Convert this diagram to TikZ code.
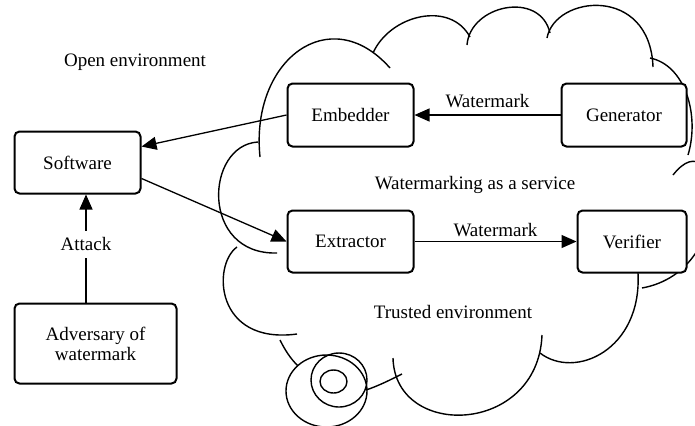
\documentclass[tikz,border=0pt]{standalone}
\usepackage{fontspec}
\setmainfont{Liberation Serif}
\usetikzlibrary{arrows.meta}
\begin{document}
\begin{tikzpicture}[x=0.5pt,y=-0.5pt,
    font=\fontsize{9.5pt}{10pt}\selectfont,
    box/.style={draw,line width=1pt,rounded corners=2.5pt,fill=white,align=center,inner sep=0pt},
    arr/.style={line width=0.65pt,-{Triangle[length=7.5pt,width=6.5pt]}},
    cloudline/.style={line width=0.7pt}]
  \useasboundingbox (0,0) rectangle (695,425);
  \begin{scope}
    \clip (0,0) rectangle (695,425);
    % cloud
    \draw[cloudline] (260,157) .. controls (250,60) and (330,0) .. (390,68);
    \draw[cloudline] (373,53) .. controls (390,15) and (450,0) .. (470,37);
    \draw[cloudline] (467,45) .. controls (470,5) and (540,-10) .. (550,33);
    \draw[cloudline] (547,38) .. controls (555,-5) and (650,-15) .. (653,67);
    \draw[cloudline] (650,58) .. controls (685,65) and (700,115) .. (688,155);
    \draw[cloudline] (673,175) .. controls (720,115) and (740,270) .. (642,288);
    \draw[cloudline] (638,273) .. controls (642,350) and (575,380) .. (540,353);
    \draw[cloudline] (542,335) .. controls (538,435) and (395,440) .. (393,358);
    \draw[cloudline] (402,374) .. controls (390,380) and (378,386) .. (366,390);
    \draw[cloudline] (258,142) .. controls (205,145) and (200,255) .. (277,253);
    \draw[cloudline] (237,247) .. controls (212,265) and (215,345) .. (297,334);
    \draw[cloudline] (280,340) .. controls (285,350) and (290,358) .. (298,366);
    % spiral
    \draw[cloudline] (326.5,391) ellipse [x radius=40.5, y radius=36];
    \draw[cloudline] (339,380) ellipse [x radius=28, y radius=27];
    \draw[cloudline] (333.5,381.5) ellipse [x radius=13.5, y radius=11.5];
  \end{scope}

  \node[box,minimum width=63pt,minimum height=31pt] (software) at (77.5,162.5) {Software};
  \node[box,minimum width=81pt,minimum height=40pt] (adversary) at (95.5,343.5) {Adversary of\\watermark};
  \node[box,minimum width=63pt,minimum height=31.5pt] (embedder) at (350.5,115) {Embedder};
  \node[box,minimum width=62.5pt,minimum height=31.5pt] (generator) at (624,115) {Generator};
  \node[box,minimum width=63pt,minimum height=31pt] (extractor) at (350.5,241.5) {Extractor};
  \node[box,minimum width=54.5pt,minimum height=31pt] (verifier) at (632,241.5) {Verifier};

  \node (open) at (135,62) {Open environment};
  \node (service) at (475,185) {Watermarking as a service};
  \node (trusted) at (453,312) {Trusted environment};

  \draw[arr] (generator) -- node[above] (wmtop) {Watermark} (embedder);
  \draw[arr] (extractor) -- node[above,inner sep=2pt] (wmbot) {Watermark} (verifier);
  \draw[arr] (embedder.west) -- (software.14);
  \draw[arr] (software.-14) -- (extractor.west);
  \draw[arr] ([xshift=-4.75pt]adversary.north) -- ([xshift=-4.75pt]adversary.north |- software.south)
    node[pos=0.54,fill=white] (attack) {Attack};
\end{tikzpicture}
\end{document}
